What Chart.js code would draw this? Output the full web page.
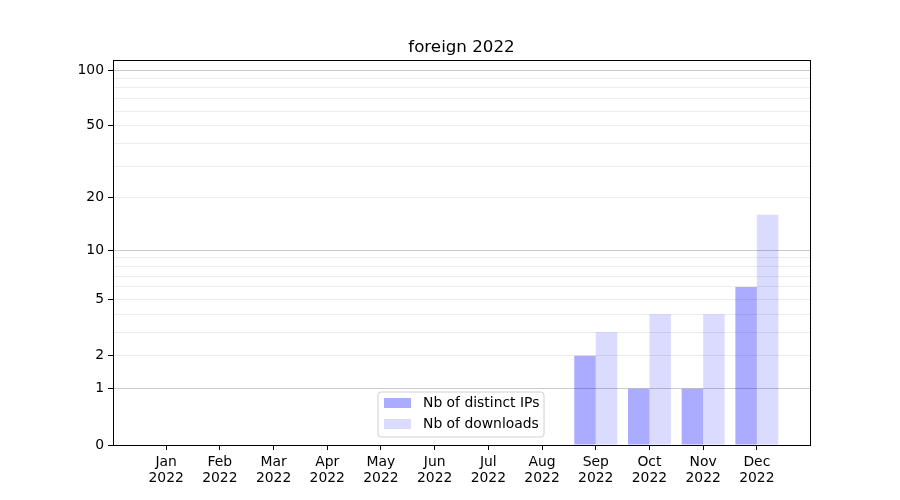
<!DOCTYPE html>
<html>
<head>
<meta charset="utf-8">
<script src="https://cdn.jsdelivr.net/npm/chart.js@4/dist/chart.umd.min.js"></script>
<style>
  html, body { margin: 0; padding: 0; background: #fff; }
  #wrap { width: 900px; height: 500px; }
</style>
</head>
<body>
<div id="wrap"><canvas id="foreignChart" width="900" height="500"></canvas></div>
<script>
var months = ['Jan', 'Feb', 'Mar', 'Apr', 'May', 'Jun', 'Jul', 'Aug', 'Sep', 'Oct', 'Nov', 'Dec'];
var year = '2022';
var distinctIps = [0, 0, 0, 0, 0, 0, 0, 0, 2, 1, 1, 6];
var downloads = [0, 0, 0, 0, 0, 0, 0, 0, 3, 4, 4, 16];
var yLabelTicks = [0, 1, 2, 5, 10, 20, 50, 100];
var yGridTicks = [0, 1, 2, 3, 4, 5, 6, 7, 8, 9, 10, 20, 30, 40, 50, 60, 70, 80, 90, 100];
var yMajorGrid = [1, 10, 100];

// y axis is log10(1 + value)
function fwd(v) { return Math.log10(1 + v); }
function inv(t) { return Math.round(Math.pow(10, t) - 1); }

var FONT = "'DejaVu Sans', sans-serif";

var framePlugin = {
    id: 'frame',
    afterDraw: function (chart) {
        var ctx = chart.ctx;
        var a = chart.chartArea;
        ctx.save();
        // box
        ctx.strokeStyle = '#000';
        ctx.lineWidth = 1;
        ctx.strokeRect(Math.round(a.left) + 0.5, Math.round(a.top) + 0.5,
            Math.round(a.right - a.left), Math.round(a.bottom - a.top));
        // title
        ctx.fillStyle = '#000';
        ctx.font = '16.7px ' + FONT;
        ctx.textAlign = 'center';
        ctx.textBaseline = 'alphabetic';
        ctx.fillText('foreign ' + year, (a.left + a.right) / 2, 52);
        // legend
        var lx = 378, ly = 392, lw = 166, lh = 45, r = 3;
        ctx.beginPath();
        ctx.moveTo(lx + r, ly);
        ctx.arcTo(lx + lw, ly, lx + lw, ly + lh, r);
        ctx.arcTo(lx + lw, ly + lh, lx, ly + lh, r);
        ctx.arcTo(lx, ly + lh, lx, ly, r);
        ctx.arcTo(lx, ly, lx + lw, ly, r);
        ctx.closePath();
        ctx.fillStyle = 'rgba(255,255,255,0.8)';
        ctx.fill();
        ctx.strokeStyle = '#d0d0d0';
        ctx.stroke();
        var items = chart.data.datasets;
        ctx.font = '13.9px ' + FONT;
        ctx.textAlign = 'left';
        ctx.textBaseline = 'middle';
        for (var i = 0; i < items.length; i++) {
            var y = 398 + i * 21;
            ctx.fillStyle = items[i].backgroundColor;
            ctx.fillRect(384, y, 27, 10);
            ctx.fillStyle = '#000';
            ctx.fillText(items[i].label, 423, y + 5);
        }
        ctx.restore();
    }
};

document.addEventListener('DOMContentLoaded', function () {
    var ctx = document.getElementById('foreignChart').getContext('2d');
    var chart = new Chart(ctx, {
        type: 'bar',
        data: {
            datasets: [{
                label: 'Nb of distinct IPs',
                data: distinctIps.map(function (v, i) { return { x: i, y: fwd(v) }; }),
                backgroundColor: 'rgba(0,0,255,0.33)',
                borderWidth: 0
            }, {
                label: 'Nb of downloads',
                data: downloads.map(function (v, i) { return { x: i, y: fwd(v) }; }),
                backgroundColor: 'rgba(0,0,255,0.14)',
                borderWidth: 0
            }]
        },
        options: {
            responsive: false,
            animation: false,
            events: [],
            layout: { padding: { left: 0, right: 90, top: 60, bottom: 0 } },
            datasets: { bar: { categoryPercentage: 0.8, barPercentage: 1.0 } },
            plugins: {
                legend: { display: false },
                title: { display: false },
                tooltip: { enabled: false }
            },
            scales: {
                x: {
                    type: 'linear',
                    offset: false,
                    min: -0.99,
                    max: 11.99,
                    afterBuildTicks: function (axis) {
                        axis.ticks = months.map(function (m, i) { return { value: i }; });
                    },
                    afterFit: function (axis) { axis.height = 55; },
                    grid: {
                        offset: false,
                        drawOnChartArea: false,
                        drawTicks: true,
                        tickLength: 5,
                        tickColor: '#000'
                    },
                    border: { color: '#000', width: 1 },
                    ticks: {
                        autoSkip: false,
                        maxRotation: 0,
                        padding: 4,
                        color: '#000',
                        font: { family: FONT, size: 13.9, lineHeight: 1.15 },
                        callback: function (v) { return [months[v], year]; }
                    }
                },
                y: {
                    type: 'linear',
                    min: 0,
                    max: 2.058,
                    afterBuildTicks: function (axis) {
                        axis.ticks = yGridTicks.map(function (t) { return { value: fwd(t) }; });
                    },
                    afterFit: function (axis) { axis.width = 113; },
                    grid: {
                        drawTicks: true,
                        tickLength: 5,
                        color: function (c) {
                            var v = inv(c.tick.value);
                            if (v === 0) return 'rgba(0,0,0,0)';
                            return yMajorGrid.indexOf(v) >= 0 ? '#cbcbcb' : '#ececec';
                        },
                        tickColor: function (c) {
                            return yLabelTicks.indexOf(inv(c.tick.value)) >= 0 ? '#000' : 'rgba(0,0,0,0)';
                        }
                    },
                    border: { color: '#000', width: 1 },
                    ticks: {
                        autoSkip: false,
                        padding: 4,
                        color: '#000',
                        font: { family: FONT, size: 13.9 },
                        callback: function (v) {
                            var t = inv(v);
                            return yLabelTicks.indexOf(t) >= 0 ? String(t) : '';
                        }
                    }
                }
            }
        },
        plugins: [framePlugin]
    });
});
</script>
</body>
</html>
